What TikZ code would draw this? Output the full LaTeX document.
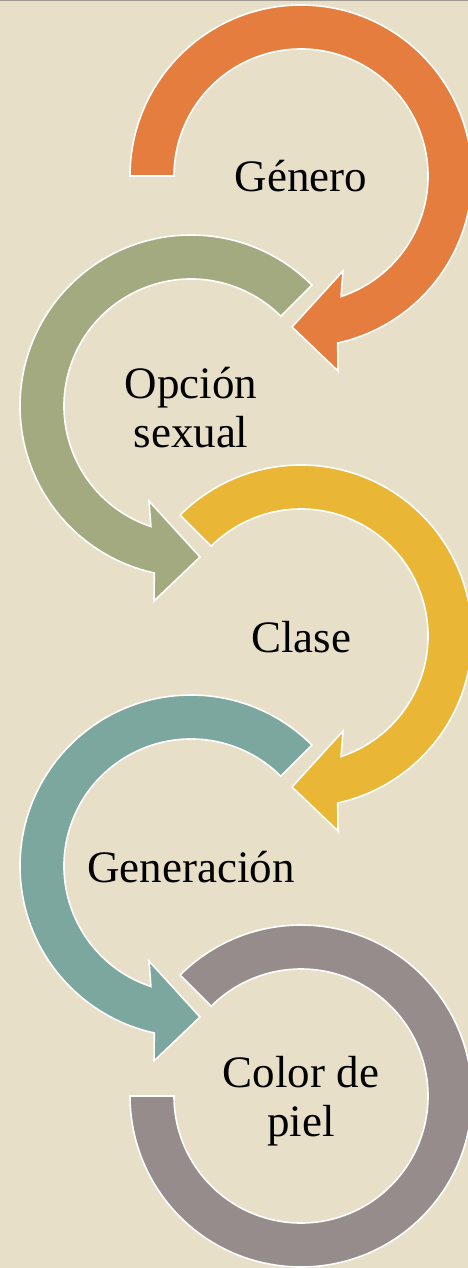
\documentclass[tikz,border=0pt]{standalone}
\usepackage{fontspec}
\setmainfont{Liberation Serif}
\definecolor{bg}{HTML}{E7DFC8}
\definecolor{corange}{HTML}{E47D3E}
\definecolor{cgreen}{HTML}{A3AA80}
\definecolor{cyellow}{HTML}{E9B635}
\definecolor{cteal}{HTML}{7CA79E}
\definecolor{cgray}{HTML}{968C8B}
\definecolor{ctop}{HTML}{A09B90}
\newcommand\myRArrow[3]{%
  \path[band, fill=#3, shift={#1}] (#2:171) arc[start angle=#2, end angle=-77.6, radius=171]
    -- (37,-195) -- (-9,-151) -- (42,-95) -- (-71.6:127)
    arc[start angle=-71.6, end angle=#2, radius=127] -- cycle;}
\newcommand\myLArrow[3]{%
  \path[band, fill=#3, shift={#1}] (#2:171) arc[start angle=#2, end angle=257.6, radius=171]
    -- (-37,-195) -- (9,-151) -- (-42,-95) -- (251.6:127)
    arc[start angle=251.6, end angle=#2, radius=127] -- cycle;}
\begin{document}
\begin{tikzpicture}[x=1pt, y=1pt,
  band/.style={draw=white, line width=1.6pt, line join=miter},
  lbl/.style={inner sep=0pt, font=\fontsize{45}{49}\selectfont, text=black}]
\useasboundingbox (0,0) rectangle (468,-1268);
\fill[bg] (0,0) rectangle (468,-1268);
\begin{scope}
\clip (0,0) rectangle (468,-1268);
\myRArrow{(301,-176)}{180}{corange}
\myLArrow{(191,-406)}{45}{cgreen}
\myRArrow{(301,-636)}{135}{cyellow}
\myLArrow{(191,-866)}{45}{cteal}
\path[band, fill=cgray, shift={(301,-1096)}] (135:171) arc[start angle=135, end angle=-180, radius=171]
  -- (-180:127) arc[start angle=-180, end angle=135, radius=127] -- cycle;
\end{scope}
\draw[ctop, line width=1.5pt] (0,-0.6) -- (468,-0.6);
\node[lbl, anchor=base] (genero) at (301,-192) {Género};
\node[lbl, anchor=base] (opcion) at (191,-398) {\begin{tabular}[t]{@{}c@{}}Opción\\sexual\end{tabular}};
\node[lbl, anchor=base] (clase) at (301,-652) {Clase};
\node[lbl, anchor=base] (generacion) at (191,-882) {Generación};
\node[lbl, anchor=base] (color) at (301,-1087) {\begin{tabular}[t]{@{}c@{}}Color de\\piel\end{tabular}};
\end{tikzpicture}
\end{document}
